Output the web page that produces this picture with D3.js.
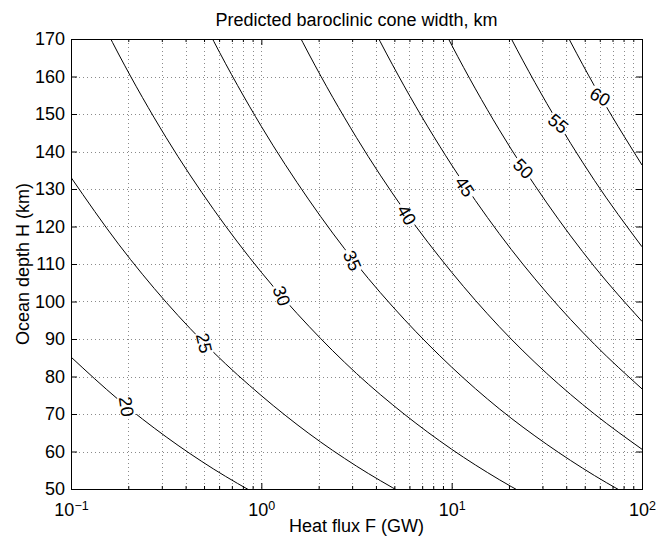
<!DOCTYPE html>
<html><head><meta charset="utf-8">
<script src="https://cdn.jsdelivr.net/npm/d3@7"></script>
<style>body{margin:0;background:#fff}svg{display:block}</style>
</head><body>
<svg id="chart" width="666" height="539"></svg>
<script>
// ---------------- data ----------------
const levels = [20, 25, 30, 35, 40, 45, 50, 55, 60];
// each contour: [heat flux F (GW), ocean depth H (km)]
const contour20 = [[0.1,85.2],[0.1778,73.8],[0.3162,63.9],[0.5623,55.3],[1,47.9]];
const contour25 = [[0.1,133.1],[0.1778,115.3],[0.3162,99.8],[0.5623,86.4],[1,74.9],[1.778,64.8],[3.162,56.1],[5.623,48.6]];
const contour30 = [[0.1,191.7],[0.1778,166.0],[0.3162,143.7],[0.5623,124.5],[1,107.8],[1.778,93.4],[3.162,80.8],[5.623,70.0],[10,60.6],[17.78,52.5],[31.62,45.5]];
const contour35 = [[0.3162,195.7],[0.5623,169.4],[1,146.7],[1.778,127.1],[3.162,110.0],[5.623,95.3],[10,82.5],[17.78,71.4],[31.62,61.9],[56.23,53.6],[100,46.4]];
const contour40 = [[0.5623,221.3],[1,191.6],[1.778,166.0],[3.162,143.7],[5.623,124.4],[10,107.8],[17.78,93.3],[31.62,80.8],[56.23,70.0],[100,60.6]];
const contour45 = [[1,242.5],[1.778,210.0],[3.162,181.9],[5.623,157.5],[10,136.4],[17.78,118.1],[31.62,102.3],[56.23,88.6],[100,76.7]];
const contour50 = [[1.778,259.3],[3.162,224.6],[5.623,194.4],[10,168.4],[17.78,145.8],[31.62,126.3],[56.23,109.3],[100,94.7]];
const contour55 = [[5.623,235.3],[10,203.7],[17.78,176.4],[31.62,152.8],[56.23,132.3],[100,114.6]];
const contour60 = [[10,242.5],[17.78,210.0],[31.62,181.8],[56.23,157.5],[100,136.4]];
const contours = [contour20, contour25, contour30, contour35, contour40, contour45, contour50, contour55, contour60];
// label anchor points on each contour
const labelFlux  = [0.196, 0.502, 1.28, 3.01, 5.81, 11.75, 23.8, 36.4, 60.3];
const labelDepth = [72.0, 88.9, 101.5, 110.9, 123.1, 130.6, 135.5, 147.5, 154.6];
const xMajorTicks = [0.1, 1, 10, 100];
const xTickExponents = ["\u22121", "0", "1", "2"];
const yTicks = [50, 60, 70, 80, 90, 100, 110, 120, 130, 140, 150, 160, 170];
const titleText = "Predicted baroclinic cone width, km";
const xLabelText = "Heat flux F (GW)";
const yLabelText = "Ocean depth H (km)";

// ---------------- drawing ----------------
const FONT = "'Liberation Sans', Arial, Helvetica, sans-serif";
const FS = 18;
const L = 71, R = 642, T = 39, B = 489;
const labelRotation = [82, 77, 70, 66, 60, 56, 46, 40, 30];

const svg = d3.select("#chart");
const x = d3.scaleLog().domain([0.1, 100]).range([L, R]);
const y = d3.scaleLinear().domain([50, 170]).range([B, T]);

const xMinor = [];
[0.1, 1, 10].forEach(d => { for (let k = 2; k <= 9; k++) xMinor.push(+(d * k).toPrecision(3)); });

const defs = svg.append("defs");
defs.append("clipPath").attr("id", "plotclip")
  .append("rect").attr("x", L).attr("y", T).attr("width", R - L).attr("height", B - T);
const mask = defs.append("mask").attr("id", "gaps").attr("maskUnits", "userSpaceOnUse")
  .attr("x", 0).attr("y", 0).attr("width", 666).attr("height", 539);
mask.append("rect").attr("width", 666).attr("height", 539).attr("fill", "#fff");
mask.selectAll("circle").data(levels).enter().append("circle")
  .attr("cx", (d, i) => x(labelFlux[i])).attr("cy", (d, i) => y(labelDepth[i]))
  .attr("r", 12.5).attr("fill", "#000");

// grid
const grid = svg.append("g").attr("stroke", "#8a8a8a").attr("stroke-width", 1)
  .attr("stroke-dasharray", "1,3").attr("shape-rendering", "crispEdges");
grid.selectAll("line.vx").data(xMajorTicks.slice(1, -1).concat(xMinor)).enter().append("line")
  .attr("x1", d => Math.round(x(d)) + 0.5).attr("x2", d => Math.round(x(d)) + 0.5)
  .attr("y1", T).attr("y2", B);
grid.selectAll("line.hy").data(yTicks.slice(1, -1)).enter().append("line")
  .attr("y1", d => Math.round(y(d)) + 0.5).attr("y2", d => Math.round(y(d)) + 0.5)
  .attr("x1", L).attr("x2", R);

// contours
const line = d3.line().x(d => x(d[0])).y(d => y(d[1])).curve(d3.curveMonotoneX);
const cg = svg.append("g").attr("clip-path", "url(#plotclip)")
  .append("g").attr("mask", "url(#gaps)");
cg.selectAll("path").data(contours).enter().append("path")
  .attr("d", line).attr("fill", "none").attr("stroke", "#000").attr("stroke-width", 1);

// contour labels
svg.append("g").selectAll("text").data(levels).enter().append("text")
  .attr("transform", (d, i) => `translate(${x(labelFlux[i])},${y(labelDepth[i])}) rotate(${labelRotation[i]})`)
  .attr("text-anchor", "middle").attr("dy", "0.36em")
  .attr("font-family", FONT).attr("font-size", FS).attr("fill", "#000")
  .text(d => d);

// axes
function styleAxis(g) {
  g.select(".domain").remove();
  g.selectAll(".tick line").attr("stroke", "#000");
  g.selectAll(".tick text").attr("font-family", FONT).attr("font-size", FS).attr("fill", "#000");
}
const xb = svg.append("g").attr("transform", `translate(0,${B})`)
  .call(d3.axisBottom(x).tickValues(xMajorTicks).tickSize(-6).tickPadding(14).tickFormat(() => ""));
styleAxis(xb);
xb.selectAll(".tick text").each(function (d, i) {
  const t = d3.select(this);
  t.append("tspan").text("10");
  t.append("tspan").attr("dy", "-0.5em").attr("font-size", 12.5).text(xTickExponents[i]);
});
svg.append("g").attr("transform", `translate(0,${B})`)
  .call(d3.axisBottom(x).tickValues(xMinor).tickSize(-3).tickFormat(() => "")).call(styleAxis);
svg.append("g").attr("transform", `translate(0,${T})`)
  .call(d3.axisTop(x).tickValues(xMajorTicks).tickSize(-6).tickFormat(() => "")).call(styleAxis);
svg.append("g").attr("transform", `translate(0,${T})`)
  .call(d3.axisTop(x).tickValues(xMinor).tickSize(-3).tickFormat(() => "")).call(styleAxis);
svg.append("g").attr("transform", `translate(${L},0)`)
  .call(d3.axisLeft(y).tickValues(yTicks).tickSize(-6).tickPadding(6)).call(styleAxis);
svg.append("g").attr("transform", `translate(${R},0)`)
  .call(d3.axisRight(y).tickValues(yTicks).tickSize(-6).tickFormat(() => "")).call(styleAxis);

// frame
svg.append("rect").attr("x", L + 0.5).attr("y", T + 0.5).attr("width", R - L).attr("height", B - T)
  .attr("fill", "none").attr("stroke", "#000").attr("stroke-width", 1);

// titles
svg.append("text").attr("x", (L + R) / 2).attr("y", 26).attr("text-anchor", "middle")
  .attr("font-family", FONT).attr("font-size", FS).text(titleText);
svg.append("text").attr("x", (L + R) / 2).attr("y", 532).attr("text-anchor", "middle")
  .attr("font-family", FONT).attr("font-size", FS).text(xLabelText);
svg.append("text").attr("transform", `translate(29,${(T + B) / 2}) rotate(-90)`).attr("text-anchor", "middle")
  .attr("font-family", FONT).attr("font-size", FS).text(yLabelText);
</script>
</body></html>
